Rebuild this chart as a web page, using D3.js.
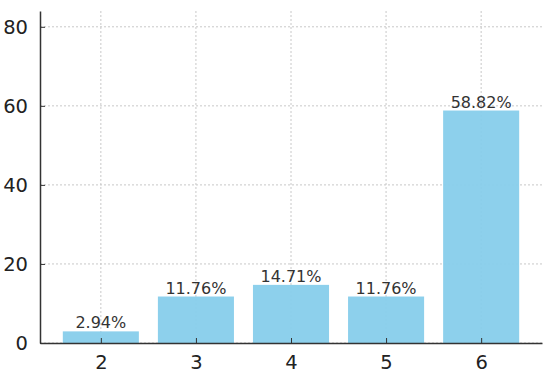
<!DOCTYPE html>
<html>
<head>
<meta charset="utf-8">
<script src="https://cdn.jsdelivr.net/npm/d3@7"></script>
<style>
  body { margin: 0; background: #fff; }
  svg { display: block; font-family: "DejaVu Sans", sans-serif; }
</style>
</head>
<body>
<div id="chart"></div>
<script>
// data
const categories = [2, 3, 4, 5, 6];
const percents = [2.94, 11.76, 14.71, 11.76, 58.82];
const yTicks = [0, 20, 40, 60, 80];

const w = 550;
const h = 373;
const padL = 40, padR = 542, padT = 11, padB = 343;

const svg = d3.select('#chart')
  .append('svg')
  .attr('width', w)
  .attr('height', h);

const x = d3.scaleLinear()
  .domain([1.36, 6.64])
  .range([padL, padR]);

const y = d3.scaleLinear()
  .domain([0, 84])
  .range([padB, padT]);

const barW = x(1.8) - x(1.0);

// grid
const grid = svg.append('g').attr('class', 'grid');
grid.selectAll('line.h')
  .data(yTicks)
  .enter()
  .append('line')
  .attr('x1', padL).attr('x2', padR)
  .attr('y1', d => y(d)).attr('y2', d => y(d))
  .attr('stroke', '#c8c8c8')
  .attr('stroke-width', 1)
  .attr('stroke-dasharray', '2,2');
grid.selectAll('line.v')
  .data(categories)
  .enter()
  .append('line')
  .attr('x1', d => x(d)).attr('x2', d => x(d))
  .attr('y1', padT).attr('y2', padB)
  .attr('stroke', '#c8c8c8')
  .attr('stroke-width', 1)
  .attr('stroke-dasharray', '2,2');

// bars
svg.append('g')
  .selectAll('rect')
  .data(categories)
  .enter()
  .append('rect')
  .attr('x', d => x(d) - barW / 2)
  .attr('width', barW)
  .attr('y', (d, i) => y(percents[i]))
  .attr('height', (d, i) => y(0) - y(percents[i]))
  .attr('fill', '#87ceeb')
  .attr('fill-opacity', 0.95);

// value labels
svg.append('g')
  .selectAll('text')
  .data(categories)
  .enter()
  .append('text')
  .attr('x', d => x(d))
  .attr('y', (d, i) => y(percents[i]) - 3)
  .attr('text-anchor', 'middle')
  .attr('font-size', 16)
  .attr('fill', '#333')
  .text((d, i) => percents[i].toFixed(2) + '%');

// axes
const yAxis = d3.axisLeft(y)
  .tickValues(yTicks)
  .tickSizeInner(-5)
  .tickSizeOuter(0)
  .tickPadding(12);

const gy = svg.append('g')
  .attr('transform', 'translate(' + padL + ',0)')
  .call(yAxis);
gy.select('.domain').attr('stroke', '#333').attr('stroke-width', 1.5);
gy.selectAll('.tick line').attr('stroke', '#333');
gy.selectAll('.tick text')
  .attr('font-size', 19.5)
  .attr('font-family', '"DejaVu Sans", sans-serif')
  .attr('fill', '#222');

const xAxis = d3.axisBottom(x)
  .tickValues(categories)
  .tickFormat(d3.format('d'))
  .tickSizeInner(-5)
  .tickSizeOuter(0)
  .tickPadding(12);

const gx = svg.append('g')
  .attr('transform', 'translate(0,' + padB + ')')
  .call(xAxis);
gx.select('.domain').attr('stroke', '#333').attr('stroke-width', 1.5);
gx.selectAll('.tick line').attr('stroke', '#333');
gx.selectAll('.tick text')
  .attr('font-size', 19.5)
  .attr('font-family', '"DejaVu Sans", sans-serif')
  .attr('fill', '#222');
</script>
</body>
</html>
